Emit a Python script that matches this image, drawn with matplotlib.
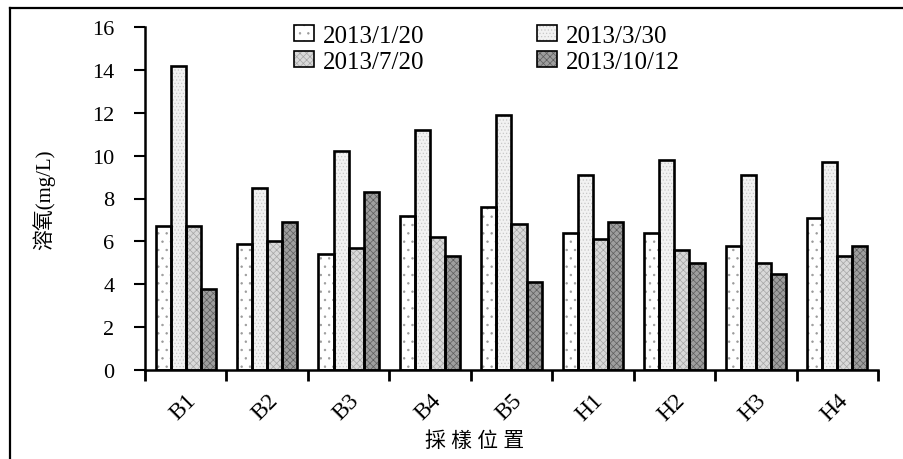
import matplotlib
matplotlib.use("Agg")
import matplotlib.pyplot as plt
import numpy as np
from matplotlib.patches import Patch
from matplotlib.lines import Line2D

plt.rcParams['font.family'] = ['Liberation Serif', 'Noto Sans CJK TC', 'DejaVu Sans']
plt.rcParams['hatch.linewidth'] = 0.5

# data
sites = ['B1', 'B2', 'B3', 'B4', 'B5', 'H1', 'H2', 'H3', 'H4']
dates = ['2013/1/20', '2013/3/30', '2013/7/20', '2013/10/12']
d_0120 = [6.7, 5.9, 5.4, 7.2, 7.6, 6.4, 6.4, 5.8, 7.1]
d_0330 = [14.2, 8.5, 10.2, 11.2, 11.9, 9.1, 9.8, 9.1, 9.7]
d_0720 = [6.7, 6.0, 5.7, 6.2, 6.8, 6.1, 5.6, 5.0, 5.3]
d_1012 = [3.8, 6.9, 8.3, 5.3, 4.1, 6.9, 5.0, 4.5, 5.8]
series = [d_0120, d_0330, d_0720, d_1012]

# fill styles (face, hatch colour, hatch)
faces = ['white', '#f2f2f2', '#d9d9d9', '#9e9e9e']
hcols = ['#9a9a9a', '#c8c8c8', '#a5a5a5', '#5e5e5e']
hatches = ['..', '.....', 'xxxxx', 'xxxxx']

fig = plt.figure(figsize=(9.04, 4.60), dpi=100)
ax = fig.add_axes([145/904, 1-371/460, 733/904, 343/460])

x = np.arange(len(sites))
w = 0.185
handles = []
for i, vals in enumerate(series):
    off = (i - 1.5) * w
    ax.bar(x + off, vals, w, color=faces[i], edgecolor=hcols[i],
           hatch=hatches[i], linewidth=0, zorder=2)
    ax.bar(x + off, vals, w, fill=False, edgecolor='black', linewidth=1.9, zorder=3)
    handles.append((Patch(facecolor=faces[i], edgecolor=hcols[i], hatch=hatches[i], lw=0),
                    Patch(fill=False, edgecolor='black', lw=1.2)))

ax.set_xlim(-0.5, len(sites) - 0.5)
ax.set_ylim(0, 16)
ax.set_yticks(np.arange(0, 17, 2))
ax.tick_params(axis='y', direction='out', length=8, width=1.5, pad=14, labelsize=16)

ax.set_xticks(x)
ax.set_xticklabels(sites, rotation=45, ha='right', rotation_mode='anchor', fontsize=17)
ax.tick_params(axis='x', which='major', length=0, pad=14)
ax.set_xticks(np.arange(-0.5, len(sites)), minor=True)
ax.tick_params(axis='x', which='minor', direction='out', length=8, width=2)

for s in ['top', 'right']:
    ax.spines[s].set_visible(False)
ax.spines['left'].set_linewidth(1.8)
ax.spines['bottom'].set_linewidth(1.8)

ax.set_ylabel('溶氧(mg/L)', fontsize=15)
ax.yaxis.set_label_coords(-0.122, 0.5)
ax.set_xlabel('採 樣 位 置', fontsize=15)
ax.xaxis.set_label_coords(0.45, -0.18)

# row-major order in a 2-column legend
order = [0, 2, 1, 3]
ax.legend([handles[k] for k in order], [dates[k] for k in order], ncol=2,
          frameon=False, loc='upper left', bbox_to_anchor=(0.19, 1.035),
          fontsize=18, handlelength=0.8, handleheight=0.6, handletextpad=0.35,
          columnspacing=4.5, labelspacing=0.15, borderaxespad=0)

# outer frame lines (left and top)
fig.add_artist(Line2D([10/904, 10/904], [0, 1-9/460], color='black', lw=1.6))
fig.add_artist(Line2D([10/904, 1], [1-9/460, 1-9/460], color='black', lw=1.6))

fig.savefig('out.png', dpi=100)
